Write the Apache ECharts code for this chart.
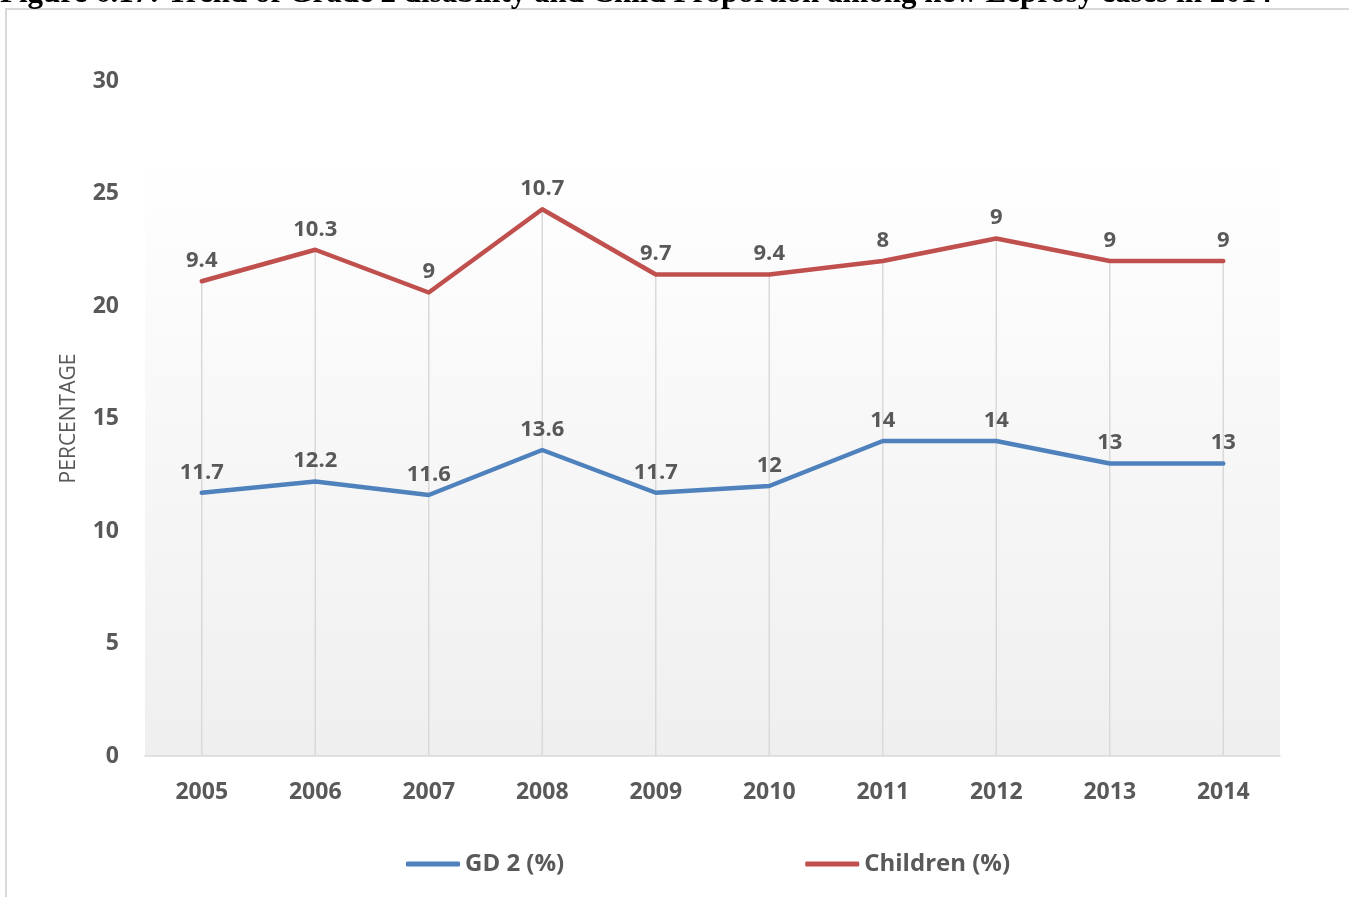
<!DOCTYPE html>
<html>
<head>
<meta charset="utf-8">
<script src="https://cdn.jsdelivr.net/npm/echarts@6/dist/echarts.min.js"></script>
<style>
  html, body { margin: 0; padding: 0; background: #ffffff; }
  #chart { width: 1349px; height: 897px; }
</style>
</head>
<body>
<div id="chart"></div>
<script>
// Trend data: Grade 2 disability and child proportion among new leprosy cases
const years = ['2005', '2006', '2007', '2008', '2009', '2010', '2011', '2012', '2013', '2014'];
const gd2 = [11.7, 12.2, 11.6, 13.6, 11.7, 12, 14, 14, 13, 13];
const children = [9.4, 10.3, 9, 10.7, 9.7, 9.4, 8, 9, 9, 9];
const seriesNames = ['GD 2 (%)', 'Children (%)'];
const titleText = 'Figure 6.17: Trend of Grade 2 disability and Child Proportion among new Leprosy cases in 2014';

const textColor = '#595959';
const font = 'Open Sans';

const chart = echarts.init(document.getElementById('chart'), null, { renderer: 'canvas' });

const lineSeries = (name, data, color) => ({
  name: name,
  type: 'line',
  stack: 'share',
  data: data,
  symbol: 'circle',
  symbolSize: 1,
  z: 5,
  itemStyle: { color: color },
  lineStyle: { color: color, width: 4.5, cap: 'round', join: 'round' },
  label: {
    show: true,
    position: 'top',
    distance: 9,
    color: textColor,
    fontFamily: font,
    fontWeight: 'bold',
    fontSize: 22
  },
  emphasis: { disabled: true }
});

// drop lines from the top line down to the axis
const dropSeries = (data) => ({
  type: 'bar',
  stack: 'drop',
  data: data,
  barWidth: 1.5,
  silent: true,
  z: 1,
  itemStyle: { color: '#d9d9d9' },
  emphasis: { disabled: true }
});

chart.setOption({
  animation: false,
  backgroundColor: '#ffffff',
  graphic: [
    {
      type: 'rect',
      shape: { x: 6, y: 9, width: 1400, height: 950 },
      style: { fill: 'none', stroke: '#d9d9d9', lineWidth: 2 },
      silent: true,
      z: 0
    },
    {
      type: 'text',
      x: 0,
      y: -6.5,
      style: {
        text: titleText,
        font: 'bold 31px "Liberation Serif"',
        fill: '#000000',
        verticalAlign: 'middle'
      },
      silent: true
    }
  ],
  grid: {
    left: 145,
    right: 69,
    top: 81,
    bottom: 141,
    show: true,
    borderWidth: 0,
    backgroundColor: {
      type: 'linear', x: 0, y: 0, x2: 0, y2: 1,
      colorStops: [
        { offset: 0, color: '#ffffff' },
        { offset: 0.1, color: '#ffffff' },
        { offset: 1, color: '#efefef' }
      ]
    }
  },
  legend: {
    data: seriesNames,
    left: 406,
    top: 852,
    padding: 0,
    icon: 'roundRect',
    itemWidth: 54,
    itemHeight: 5,
    itemGap: 241,
    textStyle: { color: textColor, fontFamily: font, fontWeight: 'bold', fontSize: 24 }
  },
  xAxis: {
    type: 'category',
    data: years,
    boundaryGap: true,
    axisLine: { show: true, lineStyle: { color: '#d9d9d9', width: 1.5 } },
    axisTick: { show: false },
    splitLine: { show: false },
    axisLabel: {
      color: textColor,
      fontFamily: font,
      fontWeight: 'bold',
      fontSize: 23,
      margin: 25
    }
  },
  yAxis: {
    type: 'value',
    min: 0,
    max: 30,
    interval: 5,
    name: 'PERCENTAGE',
    nameLocation: 'middle',
    nameGap: 65,
    nameTextStyle: { color: textColor, fontFamily: font, fontSize: 21 },
    axisLine: { show: false },
    axisTick: { show: false },
    splitLine: { show: false },
    axisLabel: {
      color: textColor,
      fontFamily: font,
      fontWeight: 'bold',
      fontSize: 23,
      margin: 26
    }
  },
  series: [
    dropSeries(gd2),
    dropSeries(children),
    lineSeries(seriesNames[0], gd2, '#4f81bd'),
    lineSeries(seriesNames[1], children, '#c0504d')
  ]
});
</script>
</body>
</html>
